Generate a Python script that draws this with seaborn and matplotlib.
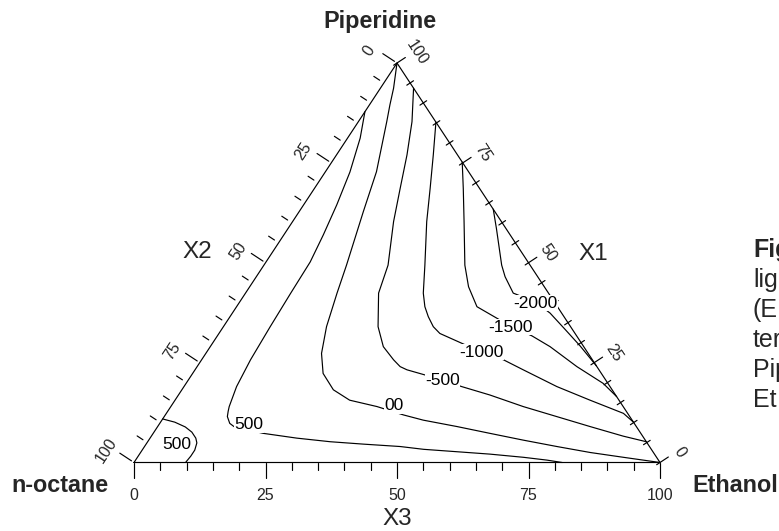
import numpy as np
import matplotlib
matplotlib.use("Agg")
import matplotlib.pyplot as plt
import seaborn as sns

# Ternary contour lines. Compositions in mole percent:
# X1 = Piperidine, X3 = Ethanol, X2 = n-octane = 100 - X1 - X3
c500_small_x1 = [10.9, 10.1, 8.9, 7.6, 6.1, 4.9, 3.1, 1.6, 0.0]
c500_small_x3 = [0.0, 2.7, 5.3, 7.2, 8.7, 9.5, 10.0, 10.0, 9.8]

c500_x1 = [87.8, 81.2, 72.7, 64.5, 57.0, 50.2, 42.4, 33.9, 25.7, 19.0, 14.0, 12.8,
           11.5, 9.8, 9.0, 8.6, 7.3, 6.1, 5.2, 4.6, 4.0, 3.3, 2.7, 2.1, 1.3, 0.6, 0.0]
c500_x3 = [0.0, 2.4, 4.7, 6.3, 7.5, 8.4, 8.6, 8.9, 9.3, 10.0, 11.1, 11.5,
           12.0, 13.3, 14.5, 15.9, 20.9, 27.9, 34.7, 41.3, 48.6, 53.4, 60.0, 66.6, 73.4, 78.2, 81.4]

c0_x1 = [100.0, 93.7, 89.5, 85.3, 72.8, 62.8, 49.4, 42.4, 34.0, 27.3, 22.3, 18.2,
         15.6, 14.0, 11.9, 10.6, 9.0, 7.3, 5.6, 4.0, 2.5, 1.3, 0.0]
c0_x3 = [0.0, 2.5, 3.9, 5.4, 9.7, 12.2, 15.7, 17.4, 19.6, 22.0, 24.8, 28.8,
         33.2, 39.2, 45.3, 49.7, 56.9, 64.0, 71.2, 78.4, 85.5, 92.4, 100.0]

cm500_x1 = [93.7, 85.3, 77.0, 68.6, 60.3, 49.4, 42.4, 34.0, 29.0, 25.7, 24.0, 23.2,
            20.7, 19.0, 16.9, 14.0, 11.5, 9.0, 6.6, 5.2]
cm500_x3 = [6.3, 10.2, 13.4, 16.3, 19.2, 23.6, 25.3, 29.4, 32.9, 36.5, 38.6, 40.3,
            48.2, 52.8, 59.2, 67.0, 74.6, 82.2, 89.7, 94.8]

cm1000_x1 = [85.2, 77.0, 68.6, 60.3, 49.4, 42.4, 39.0, 36.5, 34.0, 32.3, 27.7,
             25.7, 23.2, 19.0, 15.6, 12.3, 10.1]
cm1000_x3 = [14.8, 18.4, 22.0, 25.5, 30.6, 33.8, 35.8, 37.7, 39.9, 42.0, 52.1,
             57.4, 62.4, 70.9, 78.9, 86.9, 89.9]

cm1500_x1 = [75.2, 68.6, 60.3, 49.4, 44.0, 39.0, 34.2, 31.7, 29.0, 24.0, 19.8, 16.5]
cm1500_x3 = [24.8, 28.3, 32.6, 38.2, 41.6, 45.7, 54.4, 59.8, 64.6, 72.2, 79.3, 83.5]

cm2000_x1 = [63.4, 58.6, 49.4, 46.5, 42.4, 40.2, 37.4, 33.4, 29.2, 24.2]
cm2000_x3 = [36.6, 39.6, 45.2, 47.3, 50.9, 56.2, 60.4, 65.2, 70.2, 75.8]

# Contour labels and where they sit (X1, X3)
label_text = ["500", "500", "00", "-500", "-1000", "-1500", "-2000"]
label_x1 = [4.8, 9.8, 14.6, 20.85, 27.96, 34.22, 40.25]
label_x3 = [5.7, 17.0, 42.1, 48.22, 52.12, 54.47, 56.16]

axis_values = [0, 25, 50, 75, 100]
axis_labels = ["0", "25", "50", "75", "100"]

# caption column running off the right margin
caption_lines = ["Fig", "lig", "(E", "ter", "Pip", "Et"]

# ---- figure geometry (pixels) ----
W, H, DPI = 779, 531, 100
X0, Y0 = 134.0, 462.5          # n-octane corner
SX, SY = 5.26, 3.995           # pixels per composition unit, horizontal / vertical
ANG = np.degrees(np.arctan2(100 * SY, 50 * SX))

sns.set_theme(style="white")
plt.rcParams["font.family"] = ["Liberation Sans", "DejaVu Sans"]

fig = plt.figure(figsize=(W / DPI, H / DPI), dpi=DPI)
ax = fig.add_axes([0, 0, 1, 1])
ax.set_xlim(-X0 / SX, (W - X0) / SX)
ax.set_ylim(-(H - Y0) / SY, Y0 / SY)
ax.axis("off")


def cart(x1, x3):
    x1 = np.asarray(x1, float)
    x3 = np.asarray(x3, float)
    return x3 + x1 / 2.0, x1


def shift(cx, cy, dx, dy):
    """Move a data point by a pixel offset (dy positive downwards)."""
    return cx + dx / SX, cy - dy / SY


def fpos(px, py):
    return px / W, 1 - py / H


LW = 0.85
# triangle frame
fx, fy = cart([0, 0, 100, 0], [0, 100, 0, 0])
ax.plot(fx, fy, color="black", lw=LW, solid_joinstyle="miter")

# contour lines
curves = [(c500_small_x1, c500_small_x3), (c500_x1, c500_x3), (c0_x1, c0_x3),
          (cm500_x1, cm500_x3), (cm1000_x1, cm1000_x3), (cm1500_x1, cm1500_x3),
          (cm2000_x1, cm2000_x3)]
for x1, x3 in curves:
    cx, cy = cart(x1, x3)
    sns.lineplot(x=cx, y=cy, sort=False, estimator=None, color="black",
                 lw=LW, ax=ax, legend=False)

for t, a, b in zip(label_text, label_x1, label_x3):
    cx, cy = cart(a, b)
    ax.text(float(cx), float(cy), t, ha="center", va="center_baseline", fontsize=12.5,
            color="black", zorder=5,
            bbox=dict(facecolor="white", edgecolor="none", pad=0.3))

# ---- axis ticks ----
nl = np.array([-np.sin(np.radians(ANG)), -np.cos(np.radians(ANG))])   # left edge outward (px, down+)
nr = np.array([np.sin(np.radians(ANG)), -np.cos(np.radians(ANG))])    # right edge outward
tick_kw = dict(color="black", lw=LW)
for v in range(0, 101, 5):
    major = v % 25 == 0
    # bottom axis: X3
    bx, by = cart(0, v)
    ex, ey = shift(bx, by, 0, 15 if major else 7)
    ax.plot([bx, ex], [by, ey], **tick_kw)
    # left axis: X2 (0 at top)
    lx, ly = cart(100 - v, 0)
    s, e = (3, 17) if major else (5, 12)
    ax.plot(*zip(shift(lx, ly, *(nl * s)), shift(lx, ly, *(nl * e))), **tick_kw)
    # right axis: X1 (100 at top)
    rx, ry = cart(v, 100 - v)
    s, e = (-4, 10) if major else (-4, 4)
    ax.plot(*zip(shift(rx, ry, *(nr * s)), shift(rx, ry, *(nr * e))), **tick_kw)

for v, t in zip(axis_values, axis_labels):
    bx, by = cart(0, v)
    ax.text(*shift(bx, by, 0, 32.5), t, ha="center", va="center", fontsize=11.5)
    lx, ly = cart(100 - v, 0)
    ax.text(*shift(lx, ly, -27.5, -12), t, ha="center", va="center", fontsize=11.5,
            rotation=ANG, rotation_mode="anchor")
    rx, ry = cart(v, 100 - v)
    ax.text(*shift(rx, ry, 20, -10), t, ha="center", va="center", fontsize=11.5,
            rotation=-ANG, rotation_mode="anchor")

# axis titles and component names
fig.text(*fpos(197, 252), "X2", ha="center", va="center", fontsize=17.5)
fig.text(*fpos(593, 254), "X1", ha="center", va="center", fontsize=17.5)
fig.text(*fpos(397, 519), "X3", ha="center", va="center", fontsize=17.5)
fig.text(*fpos(380, 28.3), "Piperidine", ha="center", va="baseline",
         fontsize=16.8, fontweight="bold")
fig.text(*fpos(60, 491.7), "n-octane", ha="center", va="baseline",
         fontsize=16.8, fontweight="bold")
fig.text(*fpos(692.7, 491.7), "Ethanol", ha="left", va="baseline",
         fontsize=16.8, fontweight="bold")

# caption column on the right
for i, line in enumerate(caption_lines):
    fig.text(*fpos(753, 257 + 30 * i), line, ha="left", va="baseline", fontsize=18,
             fontweight="bold" if i == 0 else "normal")

fig.savefig("out.png", dpi=DPI)
